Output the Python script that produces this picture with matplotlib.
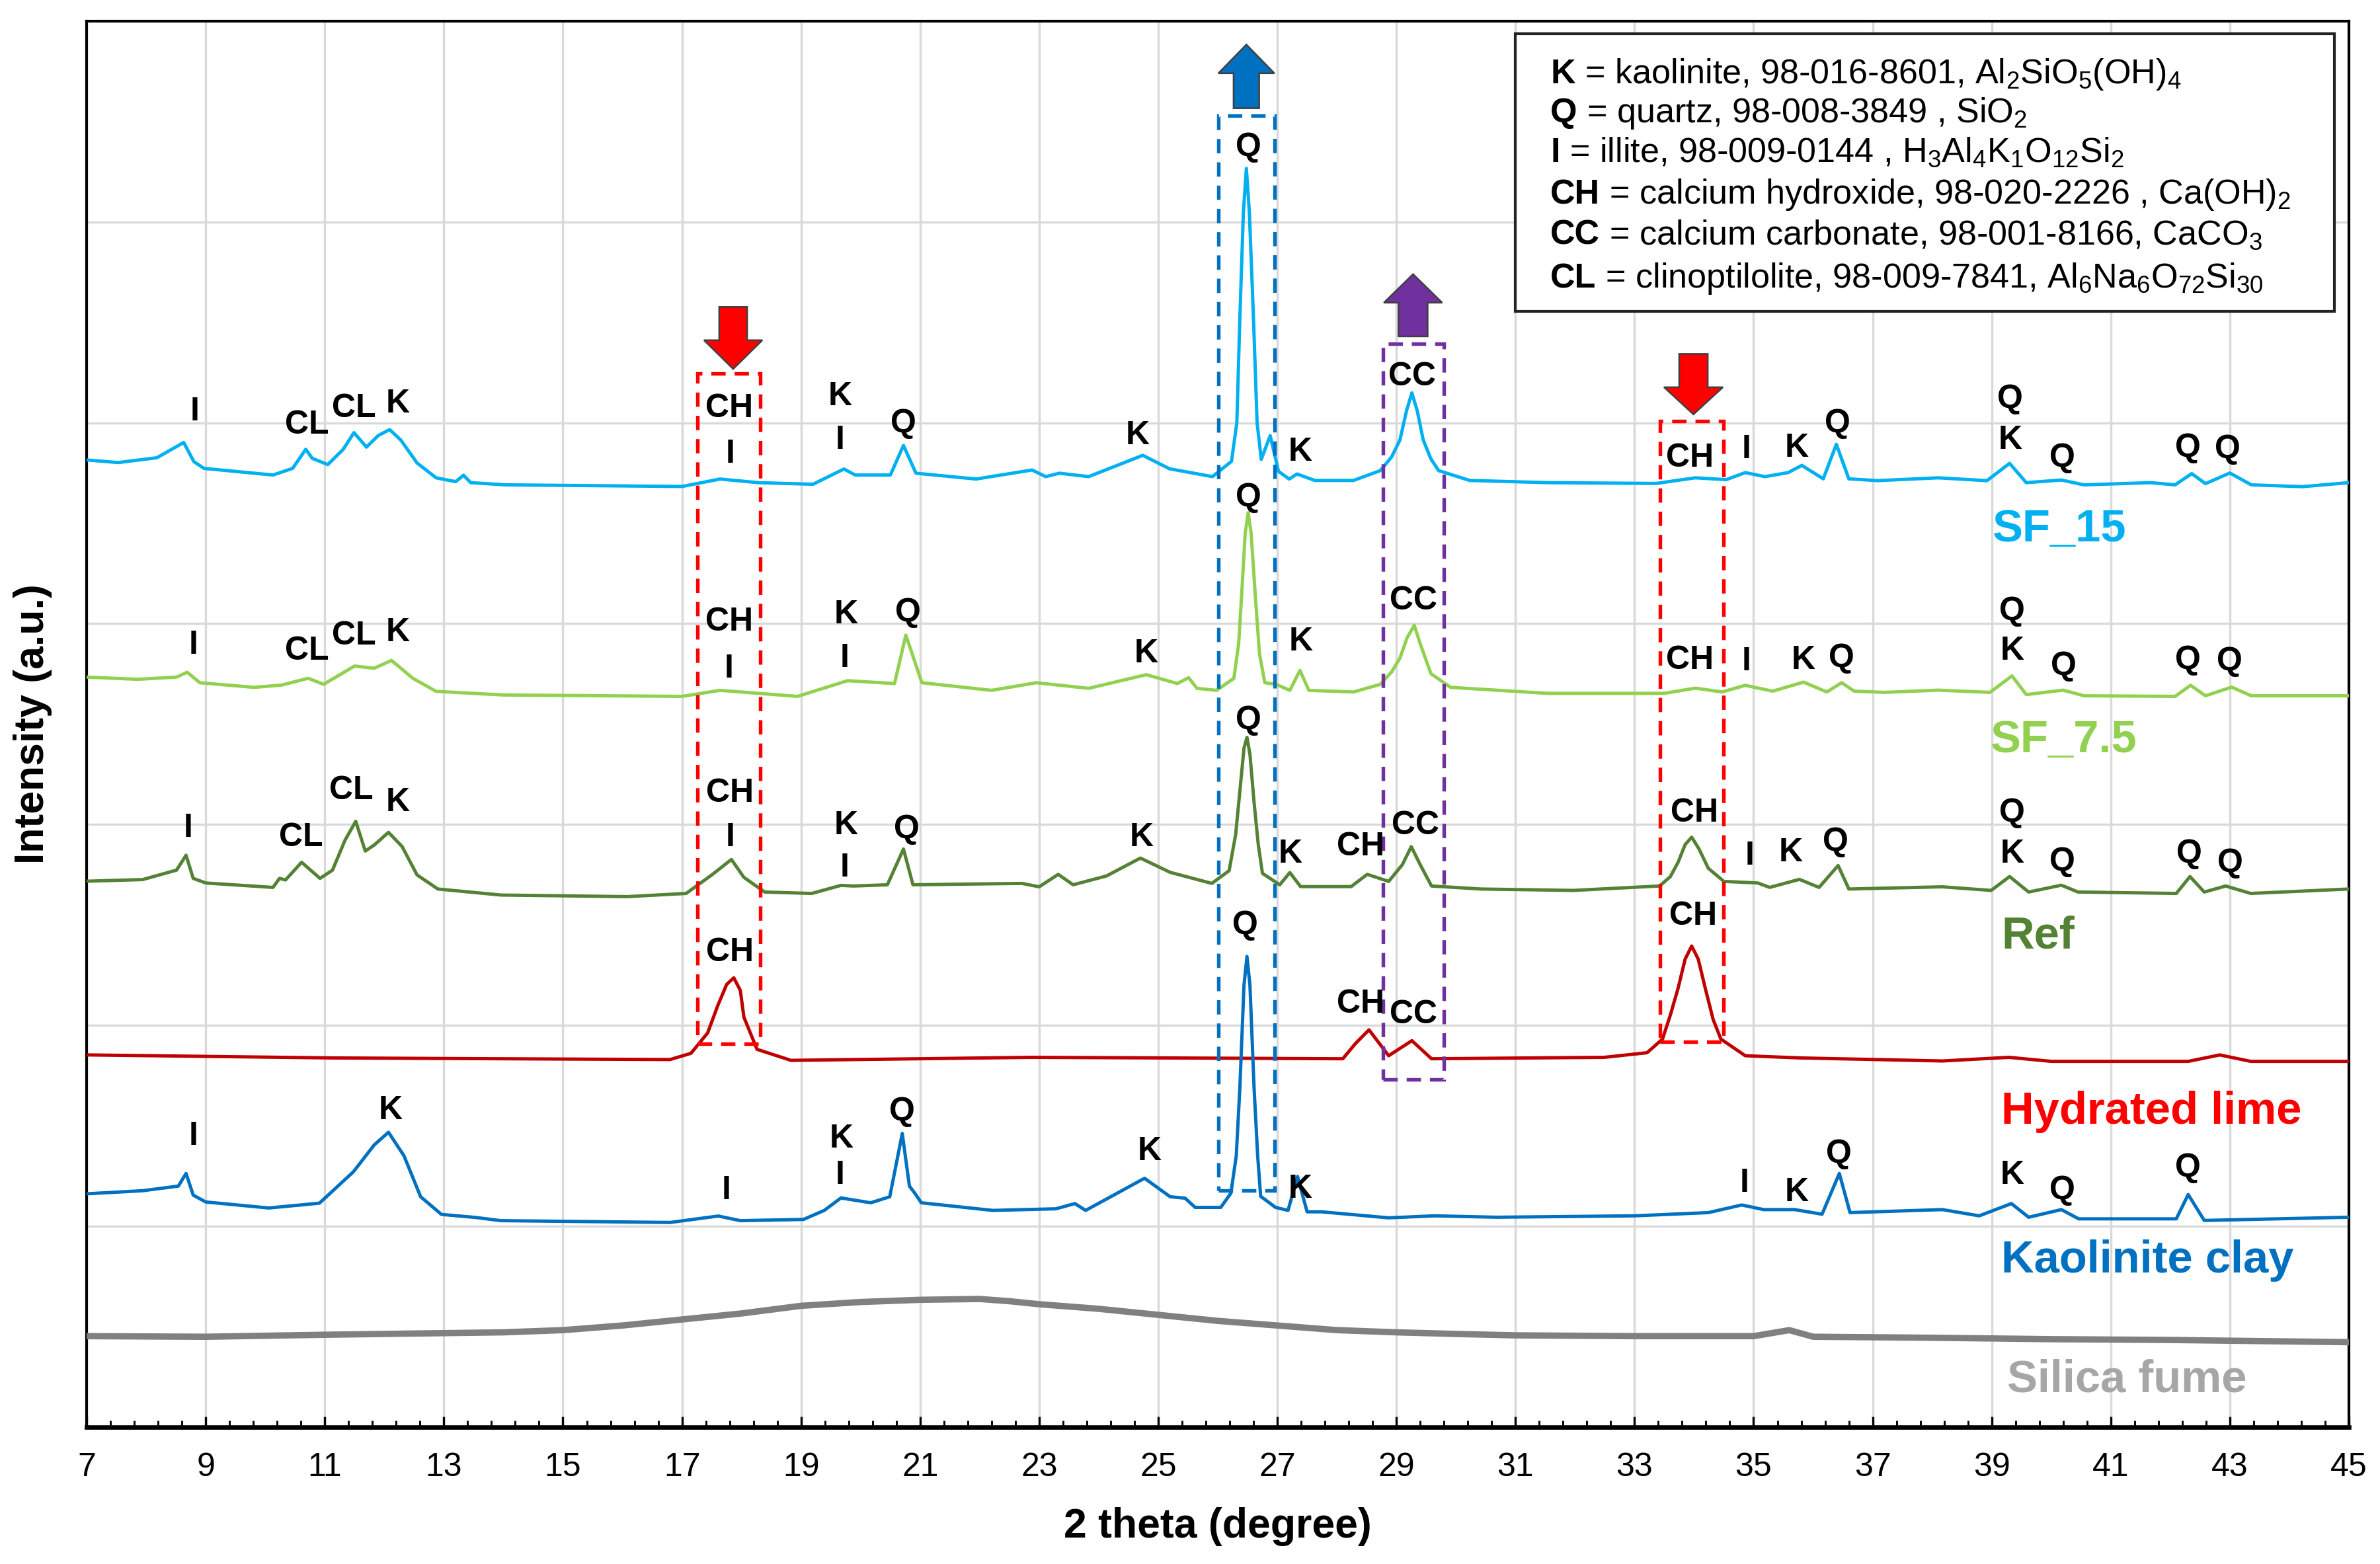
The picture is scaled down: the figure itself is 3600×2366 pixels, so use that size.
import matplotlib
matplotlib.use("Agg")
import matplotlib.pyplot as plt
from matplotlib.patches import Rectangle, Polygon
from matplotlib.ticker import FixedLocator

plt.rcParams["font.family"] = ["Liberation Sans", "DejaVu Sans"]
plt.rcParams["mathtext.fontset"] = "custom"
plt.rcParams["mathtext.rm"] = "Liberation Sans"
plt.rcParams["mathtext.it"] = "Liberation Sans:italic"
plt.rcParams["mathtext.bf"] = "Liberation Sans:bold"

# ---- data (2 theta in degree, intensity in a.u.) ----
sf15_x = [7.0, 7.53, 8.18, 8.63, 8.8, 8.97, 10.13, 10.46, 10.68, 10.79, 11.05, 11.31, 11.49, 11.7,
          11.9, 12.09, 12.28, 12.55, 12.87, 13.2, 13.33, 13.45, 14.04, 17.0, 17.64, 18.28, 19.2,
          19.72, 19.91, 20.5, 20.72, 20.93, 21.94, 22.88, 23.11, 23.34, 23.83, 24.74, 25.19, 25.91,
          26.23, 26.32, 26.37, 26.43, 26.48, 26.53, 26.6, 26.66, 26.73, 26.88, 27.02, 27.2, 27.33,
          27.63, 28.28, 28.73, 28.92, 29.06, 29.17, 29.26, 29.35, 29.45, 29.58, 29.71, 30.23, 31.54,
          33.36, 34.02, 34.54, 34.86, 35.19, 35.58, 35.81, 36.17, 36.39, 36.6, 37.08, 38.1, 38.92,
          39.3, 39.58, 40.17, 40.55, 41.67, 42.08, 42.36, 42.59, 43.0, 43.36, 44.22, 45.0]
sf15_y = [4815, 4802, 4826, 4902, 4807, 4773, 4740, 4773, 4868, 4823, 4792, 4868, 4951, 4879,
          4937, 4966, 4913, 4800, 4726, 4707, 4739, 4702, 4691, 4683, 4720, 4702, 4694,
          4770, 4740, 4740, 4887, 4749, 4720, 4765, 4732, 4749, 4732, 4838, 4771, 4732,
          4808, 5000, 5517, 6050, 6266, 6050, 5517, 5000, 4818, 4936, 4758, 4720, 4745,
          4713, 4713, 4762, 4830, 4915, 5060, 5149, 5060, 4915, 4820, 4762, 4713, 4702,
          4698, 4726, 4717, 4752, 4732, 4752, 4788, 4721, 4893, 4721, 4712, 4726, 4712,
          4798, 4702, 4715, 4691, 4702, 4691, 4747, 4697, 4750, 4691, 4682, 4702]

sf75_x = [7.0, 7.86, 8.51, 8.69, 8.9, 9.81, 10.27, 10.72, 10.98, 11.5, 11.83, 12.12, 12.48, 12.87,
          14.0, 17.0, 17.64, 18.94, 19.78, 20.57, 20.76, 21.03, 22.2, 22.95, 23.83, 24.8, 25.32,
          25.51, 25.65, 25.98, 26.27, 26.35, 26.4, 26.46, 26.51, 26.56, 26.63, 26.7, 26.79, 26.98,
          27.21, 27.38, 27.53, 28.28, 28.73, 28.92, 29.06, 29.18, 29.3, 29.4, 29.58, 29.91, 31.54,
          33.5, 34.02, 34.47, 34.86, 35.32, 35.84, 36.23, 36.48, 36.69, 37.2, 38.1, 38.97, 39.34,
          39.58, 40.2, 40.55, 42.08, 42.34, 42.59, 43.03, 43.36, 45.0]
sf75_y = [3734, 3723, 3734, 3758, 3706, 3683, 3694, 3728, 3698, 3789, 3778, 3817, 3728, 3663,
          3645, 3638, 3668, 3638, 3716, 3702, 3943, 3706, 3668, 3706, 3678, 3746, 3702,
          3731, 3678, 3668, 3728, 3900, 4140, 4450, 4552, 4450, 4140, 3850, 3706, 3698,
          3668, 3767, 3668, 3660, 3698, 3760, 3829, 3930, 3992, 3900, 3751, 3683, 3653,
          3653, 3679, 3660, 3693, 3664, 3709, 3660, 3706, 3664, 3658, 3669, 3658, 3740,
          3647, 3669, 3641, 3638, 3693, 3641, 3684, 3641, 3641]

ref_x = [7.02, 7.94, 8.51, 8.67, 8.79, 9.0, 10.13, 10.24, 10.34, 10.61, 10.92, 11.13, 11.34, 11.52,
         11.68, 11.83, 12.07, 12.3, 12.55, 12.9, 13.96, 16.08, 17.07, 17.5, 17.83, 18.04, 18.39,
         19.18, 19.67, 19.88, 20.45, 20.72, 20.88, 22.71, 23.0, 23.32, 23.57, 24.13, 24.7, 25.2,
         25.9, 26.19, 26.3, 26.37, 26.44, 26.49, 26.54, 26.61, 26.68, 26.75, 27.04, 27.21, 27.39,
         28.24, 28.51, 28.87, 29.1, 29.25, 29.4, 29.59, 30.42, 31.97, 33.42, 33.6, 33.73, 33.85,
         33.96, 34.08, 34.24, 34.5, 35.07, 35.27, 35.77, 36.1, 36.42, 36.6, 38.17, 38.99, 39.3,
         39.62, 40.17, 40.45, 42.1, 42.33, 42.57, 42.93, 43.35, 45.0]
ref_y = [2718, 2726, 2773, 2847, 2732, 2709, 2687, 2732, 2724, 2812, 2732, 2773, 2922, 3016,
         2868, 2898, 2961, 2890, 2749, 2679, 2649, 2641, 2657, 2749, 2826, 2737, 2664,
         2657, 2697, 2694, 2700, 2878, 2700, 2707, 2690, 2752, 2700, 2744, 2833, 2762,
         2707, 2770, 2950, 3164, 3380, 3434, 3350, 3109, 2900, 2757, 2700, 2761, 2691,
         2691, 2752, 2717, 2800, 2890, 2800, 2694, 2679, 2672, 2694, 2740, 2811, 2900,
         2937, 2880, 2782, 2717, 2709, 2687, 2727, 2687, 2796, 2679, 2690, 2672, 2741,
         2664, 2698, 2664, 2657, 2741, 2664, 2694, 2657, 2679]

lime_x = [7.02, 11.13, 16.8, 17.15, 17.43, 17.6, 17.75, 17.87, 17.98, 18.04, 18.26, 18.83, 22.87,
          28.1, 28.31, 28.54, 28.87, 29.26, 29.59, 32.49, 33.21, 33.47, 33.6, 33.73, 33.85, 33.96,
          34.07, 34.19, 34.32, 34.45, 34.86, 35.79, 38.17, 39.29, 40.0, 42.3, 42.83, 43.35, 45.0]
lime_y = [1853, 1838, 1830, 1861, 1962, 2098, 2204, 2237, 2174, 2041, 1881, 1826, 1841,
          1834, 1909, 1978, 1849, 1924, 1834, 1841, 1864, 1932, 2050, 2183, 2330, 2395,
          2330, 2183, 2030, 1932, 1849, 1838, 1823, 1841, 1821, 1821, 1853, 1821, 1821]

kao_x = [7.02, 7.94, 8.54, 8.67, 8.79, 9.0, 10.06, 10.91, 11.48, 11.83, 12.07, 12.33, 12.61, 12.96,
         13.53, 13.96, 16.8, 17.61, 17.98, 19.04, 19.39, 19.67, 20.17, 20.49, 20.7, 20.82, 20.91,
         21.02, 22.22, 23.28, 23.6, 23.78, 24.77, 25.2, 25.45, 25.62, 26.05, 26.22, 26.31, 26.37,
         26.44, 26.49, 26.54, 26.61, 26.67, 26.72, 26.97, 27.18, 27.34, 27.5, 27.74, 28.87, 29.64,
         30.68, 33.0, 34.24, 34.8, 35.17, 35.69, 36.15, 36.44, 36.62, 38.17, 38.79, 39.33, 39.62,
         40.17, 40.46, 42.1, 42.3, 42.57, 45.0]
kao_y = [1162, 1177, 1200, 1263, 1155, 1121, 1091, 1115, 1271, 1405, 1468, 1351, 1147, 1059,
         1044, 1028, 1019, 1051, 1028, 1034, 1079, 1141, 1117, 1147, 1462, 1200, 1165,
         1117, 1079, 1087, 1113, 1079, 1239, 1147, 1140, 1094, 1094, 1165, 1350, 1685,
         2200, 2343, 2200, 1685, 1350, 1149, 1094, 1079, 1248, 1072, 1072, 1042, 1052,
         1045, 1052, 1068, 1106, 1083, 1083, 1060, 1263, 1068, 1083, 1052, 1113, 1045,
         1083, 1037, 1037, 1158, 1029, 1045]

sfume_x = [7, 9, 11, 13, 14, 15, 16, 17, 18, 19, 20, 21, 22, 22.5, 23, 24, 25, 26, 27, 28, 29, 30,
           31, 33, 35, 35.6, 36, 38, 40, 42, 45]
sfume_y = [453, 450, 460, 468, 472, 483, 506, 536, 566, 604, 623, 634, 638, 627, 612, 589, 559, 529,
           506, 483, 472, 464, 457, 453, 453, 483, 450, 445, 438, 434, 423]

# peak labels: (2 theta, intensity, phase)
sf15_peaks = [(8.81, 5056, "I"), (10.70, 4988, "CL"), (11.49, 5072, "CL"), (12.23, 5094, "K"),
              (17.79, 5072, "CH"), (17.81, 4845, "I"), (19.65, 5132, "K"), (19.65, 4913, "I"),
              (20.72, 4996, "Q"), (24.65, 4936, "K"), (26.51, 6370, "Q"), (27.38, 4853, "K"),
              (29.26, 5230, "CC"), (33.93, 4823, "CH"), (34.88, 4868, "I"), (35.72, 4875, "K"),
              (36.41, 4996, "Q"), (39.31, 5117, "Q"), (39.31, 4913, "K"), (40.18, 4823, "Q"),
              (42.30, 4875, "Q"), (42.96, 4868, "Q")]
sf75_peaks = [(8.79, 3894, "I"), (10.70, 3864, "CL"), (11.49, 3940, "CL"), (12.23, 3955, "K"),
              (17.79, 4007, "CH"), (17.79, 3774, "I"), (19.75, 4045, "K"), (19.73, 3826, "I"),
              (20.80, 4053, "Q"), (24.80, 3849, "K"), (26.51, 4626, "Q"), (27.40, 3909, "K"),
              (29.29, 4113, "CC"), (33.93, 3819, "CH"), (34.88, 3811, "I"), (35.84, 3819, "K"),
              (36.48, 3826, "Q"), (39.34, 4060, "Q"), (39.34, 3864, "K"), (40.21, 3789, "Q"),
              (42.30, 3819, "Q"), (42.99, 3811, "Q")]
ref_peaks = [(8.71, 2981, "I"), (10.60, 2936, "CL"), (11.44, 3170, "CL"), (12.23, 3109, "K"),
             (17.81, 3155, "CH"), (17.81, 2936, "I"), (19.75, 2996, "K"), (19.73, 2785, "I"),
             (20.77, 2974, "Q"), (24.72, 2936, "K"), (26.51, 3517, "Q"), (27.22, 2853, "K"),
             (28.40, 2891, "CH"), (29.32, 2996, "CC"), (34.01, 3057, "CH"), (34.93, 2845, "I"),
             (35.62, 2860, "K"), (36.38, 2913, "Q"), (39.34, 3057, "Q"), (39.34, 2853, "K"),
             (40.18, 2815, "Q"), (42.32, 2853, "Q"), (43.01, 2808, "Q")]
lime_peaks = [(17.81, 2362, "CH"), (28.40, 2106, "CH"), (29.29, 2053, "CC"), (33.98, 2543, "CH")]
kao_peaks = [(8.79, 1449, "I"), (12.10, 1577, "K"), (17.74, 1177, "I"), (19.68, 1434, "K"),
             (19.65, 1253, "I"), (20.70, 1570, "Q"), (24.85, 1374, "K"), (26.46, 2498, "Q"),
             (27.38, 1185, "K"), (34.85, 1215, "I"), (35.72, 1170, "K"), (36.43, 1358, "Q"),
             (39.34, 1253, "K"), (40.18, 1177, "Q"), (42.30, 1291, "Q")]

sample_names = ["SF_15", "SF_7.5", "Ref", "Hydrated lime", "Kaolinite clay", "Silica fume"]
name_pos = [(39.01, 4468), (38.98, 3419), (39.16, 2445), (39.16, 1570), (39.16, 830), (39.26, 234)]

legend_keys = ["K", "Q", "I", "CH", "CC", "CL"]
legend_rest = [" = kaolinite, 98-016-8601, Al$_2$SiO$_5$(OH)$_4$",
               " = quartz, 98-008-3849 , SiO$_2$",
               " = illite, 98-009-0144 , H$_3$Al$_4$K$_1$O$_{12}$Si$_2$",
               " = calcium hydroxide, 98-020-2226 , Ca(OH)$_2$",
               " = calcium carbonate, 98-001-8166, CaCO$_3$",
               " = clinoptilolite, 98-009-7841, Al$_6$Na$_6$O$_{72}$Si$_{30}$"]

# highlighted regions: (x0, x1, y0, y1, colour)
boxes = [(17.26, 18.32, 1909, 5245, "#FF0000"),
         (33.43, 34.49, 1917, 5008, "#FF0000"),
         (26.01, 26.95, 1177, 6528, "#0070C0"),
         (28.78, 29.80, 1730, 5392, "#7030A0")]
# block arrows: (centre, tail, neck, tip, shaft width, head width, colour)
arrows = [(17.86, 5577, 5411, 5268, 0.47, 0.98, "#FF0000"),
          (33.99, 5343, 5177, 5042, 0.48, 0.99, "#FF0000"),
          (29.28, 5430, 5598, 5740, 0.49, 0.98, "#7030A0"),
          (26.48, 6566, 6740, 6883, 0.43, 0.94, "#0070C0")]

series = [(sf15_x, sf15_y, "#00B0F0", 1.2, sf15_peaks),
          (sf75_x, sf75_y, "#92D050", 1.2, sf75_peaks),
          (ref_x, ref_y, "#548235", 1.2, ref_peaks),
          (lime_x, lime_y, "#C00000", 1.2, lime_peaks),
          (kao_x, kao_y, "#0070C0", 1.2, kao_peaks),
          (sfume_x, sfume_y, "#808080", 2.3, [])]
name_colors = ["#00B0F0", "#92D050", "#548235", "#FF0000", "#0070C0", "#A6A6A6"]

fig = plt.figure(figsize=(12.003, 7.887), dpi=300)
ax = fig.add_axes([0.0364, 0.0875, 0.9503, 0.8990])

for xs, ys, col, lw, peaks in series:
    ax.plot(xs, ys, color=col, lw=lw, zorder=3, solid_joinstyle="round")
    for px, py, lab in peaks:
        ax.text(px, py, lab, ha="center", va="center", fontsize=12, fontweight="bold", zorder=6)

for (nx, ny), name, col in zip(name_pos, sample_names, name_colors):
    ax.text(nx, ny, name, ha="left", va="center", fontsize=16.5, fontweight="bold", color=col, zorder=6)

for x0, x1, y0, y1, col in boxes:
    ax.add_patch(Rectangle((x0, y0), x1 - x0, y1 - y0, fill=False, edgecolor=col, lw=1.3,
                           linestyle=(0, (4, 2.5)), zorder=4))

for xc, tail, neck, tip, sw, hw, col in arrows:
    verts = [(xc - sw / 2, tail), (xc + sw / 2, tail), (xc + sw / 2, neck), (xc + hw / 2, neck),
             (xc, tip), (xc - hw / 2, neck), (xc - sw / 2, neck)]
    ax.add_patch(Polygon(verts, closed=True, facecolor=col, edgecolor="#404040", lw=0.6, zorder=5))

# legend box with phase identification
ax.add_patch(Rectangle((0.6315, 0.7937), 0.3621, 0.1975, transform=ax.transAxes, facecolor="white",
                       edgecolor="#222222", lw=1.0, zorder=7))
baselines = [0.9558, 0.9281, 0.8999, 0.8702, 0.8411, 0.8105]
for key, rest, yb in zip(legend_keys, legend_rest, baselines):
    t = ax.text(0.647, yb, key, transform=ax.transAxes, fontsize=12.5, fontweight="bold",
                ha="left", va="baseline", zorder=8)
    ax.annotate(rest, xy=(1, yb), xycoords=(t, "axes fraction"), fontsize=12.5,
                ha="left", va="baseline", zorder=8)

ax.set_xlim(7, 45)
ax.set_ylim(0, 7000)
ax.xaxis.set_major_locator(FixedLocator(list(range(7, 46, 2))))
ax.xaxis.set_minor_locator(FixedLocator([7 + 0.4 * k for k in range(96)]))
ax.yaxis.set_major_locator(FixedLocator(list(range(0, 7001, 1000))))
ax.set_yticklabels([])
ax.tick_params(axis="y", length=0)
ax.tick_params(axis="x", which="major", direction="in", length=3.8, width=0.8, labelsize=12, pad=9)
ax.tick_params(axis="x", which="minor", direction="in", length=2.4, width=0.7)
ax.grid(True, which="major", color="#D9D9D9", lw=0.8, zorder=0)
ax.set_axisbelow(True)

for s in ax.spines.values():
    s.set_linewidth(1.0)
ax.spines["bottom"].set_linewidth(1.6)

ax.set_xlabel("2 theta (degree)", fontsize=15, fontweight="bold", labelpad=9)
ax.set_ylabel("Intensity (a.u.)", fontsize=15, fontweight="bold", labelpad=9)

fig.savefig("out.png", dpi=300)
